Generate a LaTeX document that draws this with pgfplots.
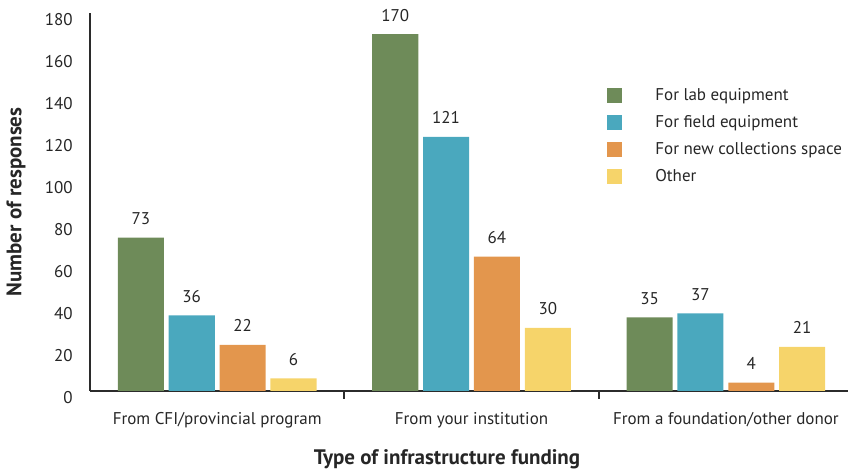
\documentclass[border=0pt]{standalone}
\usepackage{fontspec}
\setmainfont{PT Sans}
\usepackage{pgfplots}
\pgfplotsset{compat=1.18}

\definecolor{cgreen}{HTML}{6E8B59}
\definecolor{cblue}{HTML}{4AA8BE}
\definecolor{corange}{HTML}{E3964D}
\definecolor{cyellow}{HTML}{F6D46A}
\definecolor{axisc}{HTML}{2B2B2B}
\definecolor{textc}{HTML}{262626}

\newcommand\tf{\fontsize{8.5pt}{10pt}\selectfont}
\newcommand\lf{\fontsize{10.5pt}{12pt}\selectfont\bfseries}

\begin{document}
\begin{tikzpicture}
\path[use as bounding box] (-45pt,-40pt) rectangle (379pt,195.5pt);
\begin{axis}[
    axis x line=bottom,
    axis y line=left,
    axis line style={-, line width=1pt, draw=axisc},
    scale only axis,
    width=379pt, height=189pt,
    xmin=-0.5, xmax=2.48, ymin=0, ymax=180,
    enlargelimits=false,
    ybar,
    bar width=0.181,
    ytick={0,20,...,180},
    ytick style={draw=none},
    yticklabel style={font=\tf, text=textc, xshift=-3pt, yshift=-3.5pt},
    /pgf/number format/assume math mode=true,
    xtick={0,1,2},
    xticklabels={From CFI/provincial program, From your institution, From a foundation/other donor},
    xtick style={draw=none},
    xticklabel style={font=\tf, text=textc, yshift=-3pt},
    extra x ticks={0.5,1.5},
    extra x tick labels={,},
    extra x tick style={tick align=outside, major tick length=4pt,
        xtick style={draw=axisc, line width=1pt}},
    every axis y label/.style={at={(axis description cs:-0.0976,0.5)},
        anchor=center, rotate=90, font=\lf, text=textc},
    every axis x label/.style={at={(axis description cs:0.471,0)},
        anchor=center, yshift=-34pt, font=\lf, text=textc},
    ylabel={Number of responses},
    xlabel={Type of infrastructure funding},
    nodes near coords,
    every node near coord/.append style={font=\tf, text=textc, anchor=base, yshift=6.5pt},
    legend image code/.code={\fill[#1] (0pt,-3.75pt) rectangle (7.5pt,3.75pt);},
    legend cell align=left,
    legend style={at={(axis description cs:0.682,0.804)}, anchor=north west,
        draw=none, fill=none, inner sep=0pt, font=\tf, text=textc,
        nodes={inner sep=0pt, text height=6.5pt, text depth=2pt},
        row sep=5pt,
        /tikz/every odd column/.append style={column sep=16.5pt}},
]
\addplot[fill=cgreen, draw=none, bar shift=-0.3] coordinates {(0,73) (1,170) (2,35)};
\addplot[fill=cblue, draw=none, bar shift=-0.1] coordinates {(0,36) (1,121) (2,37)};
\addplot[fill=corange, draw=none, bar shift=0.1] coordinates {(0,22) (1,64) (2,4)};
\addplot[fill=cyellow, draw=none, bar shift=0.3] coordinates {(0,6) (1,30) (2,21)};
\legend{For lab equipment, For field equipment, For new collections space, Other}
\end{axis}
\end{tikzpicture}
\end{document}
